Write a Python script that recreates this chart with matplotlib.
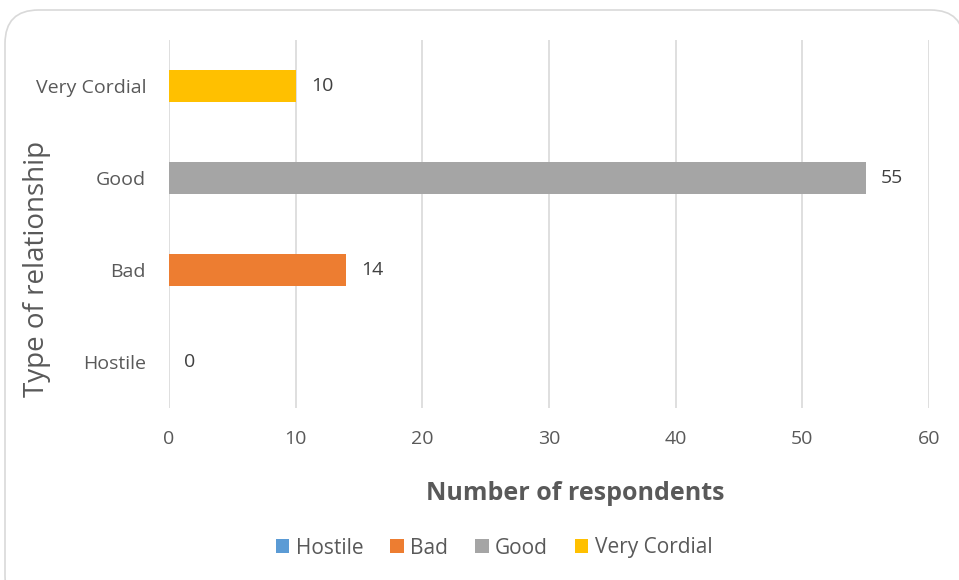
import matplotlib.pyplot as plt
from matplotlib.patches import FancyBboxPatch, Patch

plt.rcParams['font.family'] = ['Open Sans', 'DejaVu Sans']

categories = ['Hostile', 'Bad', 'Good', 'Very Cordial']
values = [0, 14, 55, 10]
colors = ['#5B9BD5', '#ED7D31', '#A5A5A5', '#FFC000']
xticks = [0, 10, 20, 30, 40, 50, 60]
txt = '#595959'

fig = plt.figure(figsize=(9.59, 5.8), dpi=100)

# rounded chart border, runs off the right and bottom edges
border = FancyBboxPatch((5 / 959, -0.05), 1.0, 1.05 - 10 / 580,
                        boxstyle='round,pad=0,rounding_size=0.035',
                        transform=fig.transFigure, facecolor='white',
                        edgecolor='#D9D9D9', linewidth=1.2,
                        mutation_aspect=959 / 580, zorder=-5)
fig.patches.append(border)

ax = fig.add_axes([169 / 959, 1 - 408 / 580, 760 / 959, 368 / 580])
ax.set_facecolor('none')
ypos = list(range(len(categories)))
ax.barh(ypos, values, height=0.35, color=colors, zorder=3)
for y, v in zip(ypos, values):
    ax.text(v + 1.2, y, str(v), va='center', ha='left', fontsize=14, color='#404040')

ax.set_xlim(0, 60)
ax.set_ylim(-0.5, 3.5)
ax.set_xticks(xticks)
ax.set_yticks(ypos)
ax.set_yticklabels(categories)
ax.grid(axis='x', color='#D9D9D9', linewidth=1.2, zorder=0)
for s in ax.spines.values():
    s.set_visible(False)
ax.tick_params(length=0, labelsize=14, labelcolor=txt)
ax.tick_params(axis='x', pad=16)
ax.tick_params(axis='y', pad=16.5)

ax.set_xlabel('Number of respondents', fontsize=18, fontweight='bold', color=txt)
ax.set_ylabel('Type of relationship', fontsize=20, color=txt)
ax.xaxis.set_label_coords((575 - 169) / 760, -(493 - 408) / 368)
ax.yaxis.set_label_coords(-(169 - 37) / 760, (408 - 269) / 368)
ax.xaxis.label.set_va('center')
ax.yaxis.label.set_va('center')

handles = [Patch(facecolor=c, label=l) for c, l in zip(colors, categories)]
fig.legend(handles=handles, loc='center', bbox_to_anchor=(494 / 959, 1 - 548 / 580), ncol=4,
           frameon=False, fontsize=15, labelcolor=txt, handlelength=0.65, handleheight=0.65,
           handletextpad=0.3, columnspacing=1.3)

fig.savefig('out.png', dpi=100)
